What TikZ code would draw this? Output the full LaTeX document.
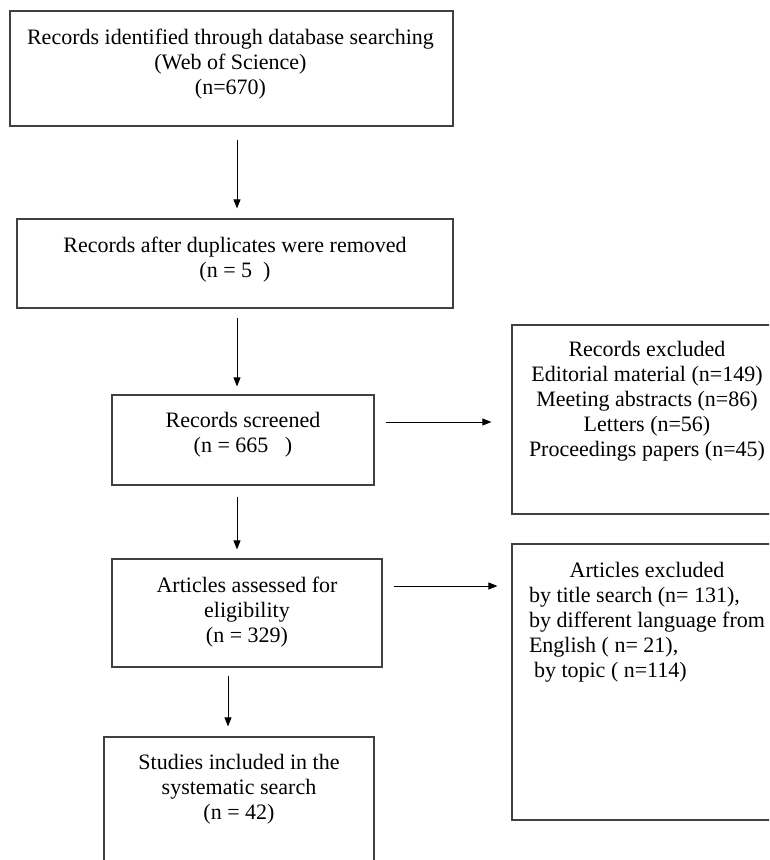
\documentclass[tikz,border=0pt]{standalone}
\usepackage{fontspec}
\setmainfont{Liberation Serif}
\usepackage{tikz}
\usetikzlibrary{arrows.meta,positioning}

\begin{document}
\begin{tikzpicture}
				[x=1pt, y=-1pt, inner sep=0pt,
				box/.style	= {draw, rectangle, line width=1.2pt, black!75},
				txt/.style	= {anchor=north, align=center, inner sep=0pt, black, font=\fontsize{22}{25}\selectfont},
				arr/.style	= {line width=0.9pt, black, -{Triangle[length=9pt,width=7pt]}}]

				\clip (0,0) rectangle (769,860);
				\fill [white] (0,0) rectangle (769,860);

				% boxes
				\node [box, minimum width=443pt, minimum height=115pt]	at (231.5,68.5)	(1) {};
				\node [box, minimum width=436pt, minimum height=89pt]	at (235,263.5)	(2) {};
				\node [box, minimum width=262pt, minimum height=90pt]	at (243,440)	(3) {};
				\node [box, minimum width=270pt, minimum height=108pt]	at (247,613)	(4) {};
				\node [box, minimum width=270pt, minimum height=138pt]	at (239,806)	(5) {};
				\node [box, minimum width=270pt, minimum height=189pt]	at (647,419.5)	(6) {};
				\node [box, minimum width=270pt, minimum height=276pt]	at (647,682)	(7) {};

				% texts
				\node [txt] at ([xshift=-1pt,yshift=-18pt]1.north) (t1) {Records identified through database searching\\(Web of Science)\\(n=670)};
				\node [txt] at ([yshift=-18pt]2.north) (t2) {Records after duplicates were removed\\(n = 5\ \ )};
				\node [txt] at ([yshift=-18pt]3.north) (t3) {Records screened\\(n = 665\ \ \ )};
				\node [txt] at ([yshift=-18pt]4.north) (t4) {Articles assessed for\\eligibility\\(n = 329)};
				\node [txt] at ([yshift=-18pt]5.north) (t5) {Studies included in the\\systematic search\\(n = 42)};
				\node [txt] at ([yshift=-17pt]6.north) (t6) {Records excluded\\Editorial material (n=149)\\Meeting abstracts (n=86)\\Letters (n=56)\\Proceedings papers (n=45)};
				\node [txt] at ([yshift=-16pt]7.north) (t7) {\begin{tabular}{@{}l@{}}\multicolumn{1}{@{}c@{}}{Articles excluded}\\by title search (n= 131),\\by different language from\\English ( n= 21),\\\hspace{5pt}by topic ( n=114)\end{tabular}};

				% arrows
				\coordinate (c1) at (237,0);
				\coordinate (c2) at (228,0);
				\coordinate (r1) at (0,422);
				\coordinate (r2) at (0,586);
				\draw [arr, shorten <=13pt, shorten >=10pt]	(1.south -| c1) -- (2.north -| c1);
				\draw [arr, shorten <=9pt, shorten >=8pt]	(2.south -| c1) -- (3.north -| c1);
				\draw [arr, shorten <=11pt, shorten >=9pt]	(3.south -| c1) -- (4.north -| c1);
				\draw [arr, shorten <=8pt, shorten >=10pt]	(4.south -| c2) -- (5.north -| c2);
				\draw [arr, shorten <=11pt, shorten >=20pt]	(3.east |- r1) -- (6.west |- r1);
				\draw [arr, shorten <=11pt, shorten >=14pt]	(4.east |- r2) -- (7.west |- r2);
\end{tikzpicture}
\end{document}
